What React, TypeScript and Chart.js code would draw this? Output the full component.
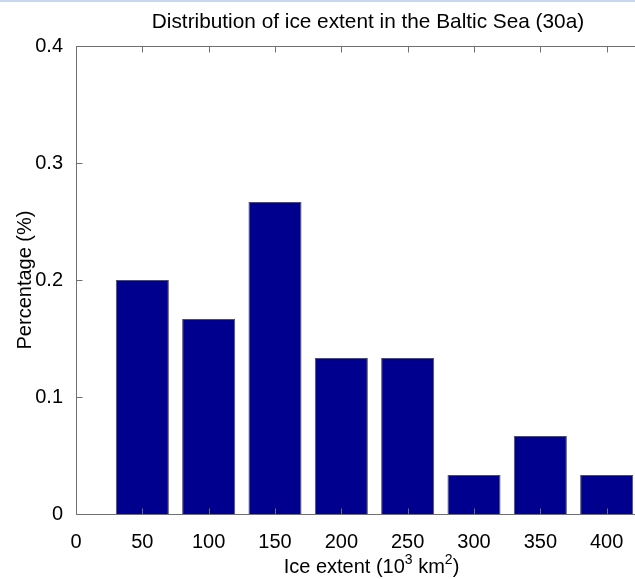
import React, { useEffect, useRef } from "react";
import { Chart, registerables } from "chart.js";

Chart.register(...registerables);

// ---- data ----
const TITLE = "Distribution of ice extent in the Baltic Sea (30a)";
const Y_LABEL = "Percentage (%)";
const extentBins = [50, 100, 150, 200, 250, 300, 350, 400];
const percentages = [0.2, 0.1667, 0.2667, 0.1333, 0.1333, 0.0333, 0.0667, 0.0333];
const xTickValues = [0, 50, 100, 150, 200, 250, 300, 350, 400, 450];
const yTickValues = [0, 0.1, 0.2, 0.3, 0.4];
const X_MIN = 0;
const X_MAX = 450;
const Y_MIN = 0;
const Y_MAX = 0.4;

// ---- style ----
const W = 736;
const H = 579;
const VIEW_W = 635;
const FONT = "'Liberation Sans', Arial, Helvetica, sans-serif";
const AXIS_COLOR = "#707070";
const BAR_FILL = "#00008f";
const BAR_EDGE = "#505050";
const TICK_LEN = 6;

const decorPlugin = {
  id: "decor",
  afterDraw(chart: any) {
    const { ctx, chartArea, scales } = chart;
    const { left, right, top, bottom } = chartArea;
    const xs = scales.x;
    const ys = scales.y;
    const a = (v: number) => Math.round(v) + 0.5;
    ctx.save();
    ctx.strokeStyle = AXIS_COLOR;
    ctx.lineWidth = 1;
    ctx.beginPath();
    // box
    ctx.moveTo(a(left), a(top));
    ctx.lineTo(a(right), a(top));
    ctx.lineTo(a(right), a(bottom));
    ctx.lineTo(a(left), a(bottom));
    ctx.closePath();
    // x ticks (bottom and top, inward)
    xTickValues.forEach((v) => {
      const px = a(xs.getPixelForValue(v));
      ctx.moveTo(px, a(bottom));
      ctx.lineTo(px, a(bottom) - TICK_LEN);
      ctx.moveTo(px, a(top));
      ctx.lineTo(px, a(top) + TICK_LEN);
    });
    // y ticks (left and right, inward)
    yTickValues.forEach((v) => {
      const py = a(ys.getPixelForValue(v));
      ctx.moveTo(a(left), py);
      ctx.lineTo(a(left) + TICK_LEN, py);
      ctx.moveTo(a(right), py);
      ctx.lineTo(a(right) - TICK_LEN, py);
    });
    ctx.stroke();

    // title
    ctx.fillStyle = "#000";
    ctx.font = `20.8px ${FONT}`;
    ctx.textAlign = "center";
    ctx.textBaseline = "alphabetic";
    ctx.fillText(TITLE, chart.width / 2, 28);

    // x label with superscripts
    const pieces: [string, number, number][] = [
      ["Ice extent (10", 20, 0],
      ["3", 14, -9],
      [" km", 20, 0],
      ["2", 14, -9],
      [")", 20, 0],
    ];
    let total = 0;
    const widths = pieces.map(([t, s]) => {
      ctx.font = `${s}px ${FONT}`;
      const w = ctx.measureText(t).width;
      total += w;
      return w;
    });
    let x = (left + right) / 2 - 3 - total / 2;
    const baseY = 573;
    ctx.textAlign = "left";
    pieces.forEach(([t, s, dy], i) => {
      ctx.font = `${s}px ${FONT}`;
      ctx.fillText(t, x, baseY + dy);
      x += widths[i];
    });
    ctx.restore();
  },
};

export default function App() {
  const ref = useRef<HTMLCanvasElement | null>(null);

  useEffect(() => {
    if (!ref.current) return;
    const chart = new Chart(ref.current, {
      type: "bar",
      data: {
        datasets: [
          {
            data: extentBins.map((b, i) => ({ x: b, y: percentages[i] })),
            backgroundColor: BAR_FILL,
            borderColor: BAR_EDGE,
            borderWidth: 1,
            barPercentage: 0.8,
            categoryPercentage: 1,
          },
        ],
      },
      options: {
        responsive: false,
        animation: false,
        devicePixelRatio: 1,
        layout: { padding: { left: 0, right: 63, top: 46, bottom: 0 } },
        plugins: {
          legend: { display: false },
          tooltip: { enabled: false },
          title: { display: false },
        },
        scales: {
          x: {
            type: "linear",
            min: X_MIN,
            max: X_MAX,
            offset: false,
            grid: { display: false, offset: false },
            border: { display: false },
            afterBuildTicks: (s: any) => {
              s.ticks = xTickValues.map((v) => ({ value: v }));
            },
            ticks: {
              color: "#000",
              padding: 8,
              maxRotation: 0,
              autoSkip: false,
              font: { family: FONT, size: 20 },
            },
            afterFit: (s: any) => {
              s.height = 65;
            },
          },
          y: {
            type: "linear",
            min: Y_MIN,
            max: Y_MAX,
            grid: { display: false },
            border: { display: false },
            afterBuildTicks: (s: any) => {
              s.ticks = yTickValues.map((v) => ({ value: v }));
            },
            ticks: {
              color: "#000",
              padding: 5,
              font: { family: FONT, size: 20 },
              callback: (v: any) => String(Number(Number(v).toFixed(1))),
            },
            title: {
              display: true,
              text: Y_LABEL,
              color: "#000",
              font: { family: FONT, size: 20 },
              padding: { top: 13, bottom: 0 },
            },
            afterFit: (s: any) => {
              s.width = 76;
            },
          },
        },
      },
      plugins: [decorPlugin],
    } as any);
    return () => chart.destroy();
  }, []);

  return (
    <div
      style={{
        position: "fixed",
        left: 0,
        top: 0,
        width: VIEW_W,
        height: H,
        overflow: "hidden",
        background: "#fff",
      }}
    >
      <canvas ref={ref} width={W} height={H} style={{ display: "block", width: W, height: H }} />
      <div
        style={{
          position: "absolute",
          left: 0,
          top: 0,
          width: "100%",
          height: 2,
          background: "#c8d7ee",
        }}
      />
    </div>
  );
}
